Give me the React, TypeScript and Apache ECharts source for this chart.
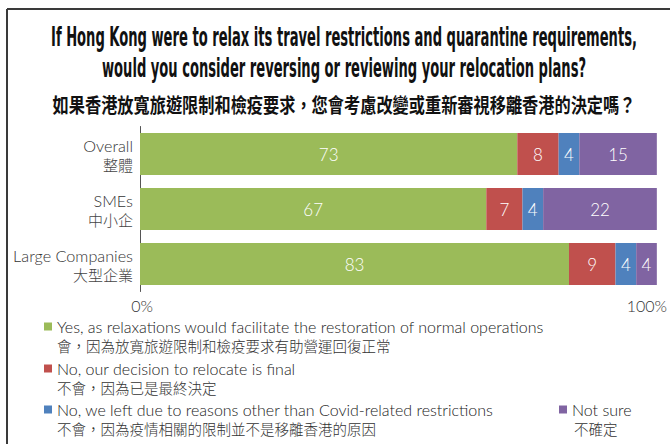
import React, { useEffect, useRef } from "react";
import * as echarts from "echarts";

const categories = ["Overall", "SMEs", "Large Companies"];
const categoriesZh = ["整體", "中小企", "大型企業"];
const seriesNames = [
  "Yes, as relaxations would facilitate the restoration of normal operations",
  "No, our decision to relocate is final",
  "No, we left due to reasons other than Covid-related restrictions",
  "Not sure",
];
const seriesNamesZh = [
  "會，因為放寬旅遊限制和檢疫要求有助營運回復正常",
  "不會，因為已是最終決定",
  "不會，因為疫情相關的限制並不是移離香港的原因",
  "不確定",
];
const yesValues = [73, 67, 83];
const finalValues = [8, 7, 9];
const otherValues = [4, 4, 4];
const notSureValues = [15, 22, 4];
const xTickLabels = ["0%", "100%"];
const titleLines = [
  "If Hong Kong were to relax its travel restrictions and quarantine requirements,",
  "would you consider reversing or reviewing your relocation plans?",
];
const titleZh = "如果香港放寬旅遊限制和檢疫要求，您會考慮改變或重新審視移離香港的決定嗎？";

const colors = ["#9BBB59", "#C0504D", "#4F81BD", "#8064A2"];
const FONT = "Lato, 'Noto Sans CJK TC', sans-serif";
const ZH = "'Noto Sans CJK TC', sans-serif";
const TITLE_FONT = "'Liberation Sans Narrow', 'DejaVu Sans Condensed', 'DejaVu Sans', sans-serif";

export default function App() {
  const ref = useRef<HTMLDivElement>(null);
  useEffect(() => {
    if (!ref.current) return;
    const chart = echarts.init(ref.current, null, { renderer: "svg" });
    const values = [yesValues, finalValues, otherValues, notSureValues];
    const legendPos = [
      { left: 44, top: 317, zx: 57, zy: 345 },
      { left: 44, top: 359, zx: 57, zy: 387 },
      { left: 44, top: 400, zx: 57, zy: 428 },
      { left: 559, top: 400, zx: 574, zy: 428 },
    ];
    chart.setOption({
      animation: false,
      color: colors,
      grid: { left: 140, right: 12, top: 126.5, height: 165, containLabel: false },
      xAxis: {
        type: "value",
        min: 0,
        max: 100,
        interval: 100,
        splitLine: { show: false },
        axisLine: { show: false },
        axisTick: { show: false },
        axisLabel: {
          margin: 6,
          formatter: (v: number) => (v === 0 ? `{a|${xTickLabels[0]}}` : `{b|${xTickLabels[1]}}`),
          rich: {
            a: { fontFamily: FONT, fontSize: 16, color: "#333", fontWeight: 300, padding: [0, 0, 0, 4] },
            b: { fontFamily: FONT, fontSize: 16, color: "#333", fontWeight: 300, padding: [0, 20, 0, 0] },
          },
        },
      },
      yAxis: {
        type: "category",
        inverse: true,
        data: categories,
        axisLine: { show: true, lineStyle: { color: "#555", width: 1 } },
        axisTick: { show: false },
        axisLabel: {
          margin: 7,
          formatter: (v: string, i: number) => `{en|${v}}\n{zh|${categoriesZh[i]}}`,
          rich: {
            en: { fontFamily: FONT, fontSize: 16.2, color: "#333", fontWeight: 300, lineHeight: 20, align: "right", padding: [3, 0, 0, 0] },
            zh: { fontFamily: ZH, fontSize: 15, color: "#444", fontWeight: 300, lineHeight: 20, align: "right" },
          },
        },
      },
      legend: seriesNames.map((n, i) => ({
        data: [n],
        left: legendPos[i].left,
        top: legendPos[i].top,
        icon: "rect",
        itemWidth: 8,
        itemHeight: 8,
        padding: 0,
        selectedMode: false,
        textStyle: { fontFamily: FONT, fontSize: 16, color: "#222", fontWeight: 300, lineHeight: 19 },
      })),
      series: seriesNames.map((n, i) => ({
        name: n,
        type: "bar",
        stack: "total",
        barWidth: 42,
        data: values[i],
        itemStyle: { color: colors[i] },
        label: {
          show: true,
          position: "inside",
          color: "#fff",
          fontFamily: FONT,
          fontWeight: 300,
          fontSize: 17,
        },
      })),
      graphic: [
        { type: "line", shape: { x1: 7, y1: 9, x2: 670, y2: 9 }, style: { stroke: "#3a3a3a", lineWidth: 2 } },
        { type: "line", shape: { x1: 7, y1: 9, x2: 7, y2: 444 }, style: { stroke: "#3a3a3a", lineWidth: 2 } },
        {
          type: "text",
          x: 344,
          y: 50,
          scaleX: 0.56,
          style: {
            text: titleLines[0],
            fontFamily: TITLE_FONT,
            fontWeight: "bold",
            fontSize: 26,
            fill: "#111",
            align: "center",
            verticalAlign: "bottom",
          },
        },
        {
          type: "text",
          x: 344,
          y: 81,
          scaleX: 0.56,
          style: {
            text: titleLines[1],
            fontFamily: TITLE_FONT,
            fontWeight: "bold",
            fontSize: 26,
            fill: "#111",
            align: "center",
            verticalAlign: "bottom",
          },
        },
        {
          type: "text",
          x: 344,
          y: 104,
          scaleX: 0.81,
          style: {
            text: titleZh,
            fontFamily: ZH,
            fontWeight: "bold",
            fontSize: 20,
            fill: "#111",
            align: "center",
            verticalAlign: "middle",
          },
        },
        ...seriesNamesZh.map((t, i) => ({
          type: "text",
          x: legendPos[i].zx,
          y: legendPos[i].zy,
          style: {
            text: t,
            fontFamily: ZH,
            fontSize: 14.5,
            fontWeight: 300,
            fill: "#333",
            align: "left",
            verticalAlign: "middle",
          },
        })),
      ],
    });
    return () => chart.dispose();
  }, []);
  return <div ref={ref} style={{ width: 670, height: 444, position: "absolute", left: 0, top: 0 }} />;
}
